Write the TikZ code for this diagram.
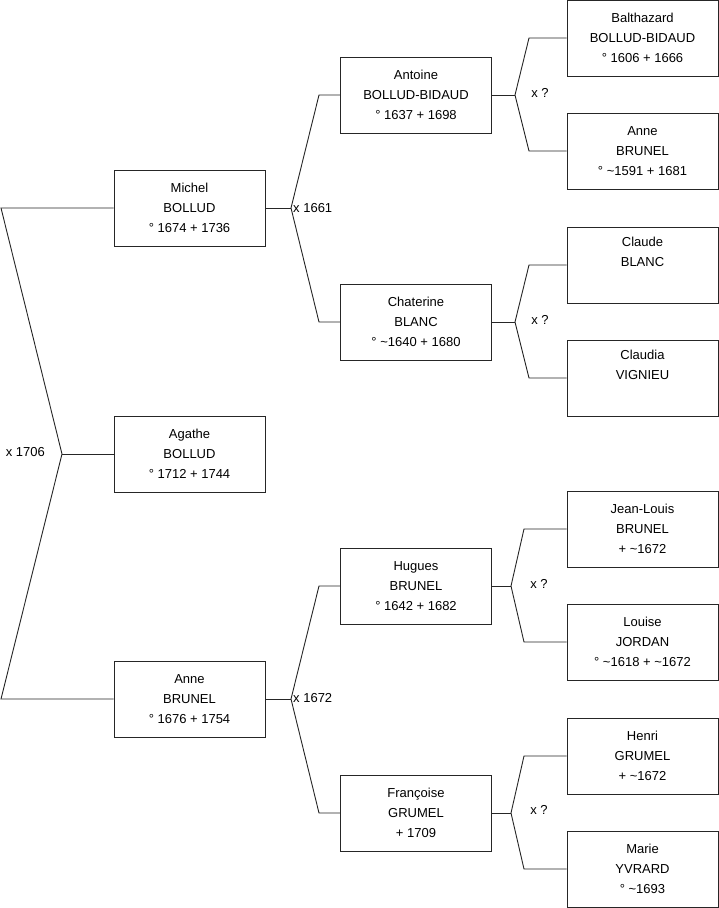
\documentclass[tikz,border=0pt]{standalone}
\usepackage{fontspec}
\setmainfont{Liberation Sans}
\begin{document}
\begin{tikzpicture}[x=1pt,y=-1pt,
  person/.style={draw=black!85, line width=0.9pt, fill=white, minimum width=151pt, minimum height=76pt, inner sep=0pt, align=center, font=\fontsize{13}{19.8}\selectfont},
  link/.style={draw=black!85, line width=0.9pt},
  marr/.style={font=\fontsize{13}{15}\selectfont, inner sep=0pt}]
\useasboundingbox (0,0) rectangle (719,908);
\fill[white] (0,0) rectangle (719,908);
% column 1
\node[person] (michel) at (189.5,208) {Michel\\BOLLUD\\° 1674 + 1736};
\node[person] (agathe) at (189.5,454) {Agathe\\BOLLUD\\° 1712 + 1744};
\node[person] (anne) at (189.5,699) {Anne\\BRUNEL\\° 1676 + 1754};
% column 2
\node[person] (antoine) at (416,95) {Antoine\\BOLLUD-BIDAUD\\° 1637 + 1698};
\node[person] (chaterine) at (416,322) {Chaterine\\BLANC\\° \textasciitilde 1640 + 1680};
\node[person] (hugues) at (416,586) {Hugues\\BRUNEL\\° 1642 + 1682};
\node[person] (francoise) at (416,813) {Françoise\\GRUMEL\\+ 1709};
% column 3
\node[person] (balthazard) at (642.5,38) {Balthazard\\BOLLUD-BIDAUD\\° 1606 + 1666};
\node[person] (anneb) at (642.5,151) {Anne\\BRUNEL\\° \textasciitilde 1591 + 1681};
\node[person] (claude) at (642.5,265) {Claude\\BLANC\\\strut};
\node[person] (claudia) at (642.5,378) {Claudia\\VIGNIEU\\\strut};
\node[person] (jeanlouis) at (642.5,529) {Jean-Louis\\BRUNEL\\+ \textasciitilde 1672};
\node[person] (louise) at (642.5,642) {Louise\\JORDAN\\° \textasciitilde 1618 + \textasciitilde 1672};
\node[person] (henri) at (642.5,756) {Henri\\GRUMEL\\+ \textasciitilde 1672};
\node[person] (marie) at (642.5,869) {Marie\\YVRARD\\° \textasciitilde 1693};
% joints level 0
\coordinate (j0) at (62,454);
\coordinate (j0a) at (1,208);
\coordinate (j0b) at (1,699);
\draw[link] (michel.west) -- (j0a) -- (j0) -- (j0b) -- (anne.west);
\draw[link] (j0) -- (agathe.west);
\node[marr, anchor=east] (m0) at (45,452) {x 1706};
% level 1
\coordinate (j1) at (291,208);
\coordinate (j1a) at (319,95);
\coordinate (j1b) at (319,322);
\draw[link] (michel.east) -- (j1);
\draw[link] (antoine.west) -- (j1a) -- (j1) -- (j1b) -- (chaterine.west);
\node[marr, anchor=west] (m1) at (293,208) {x 1661};
\coordinate (j2) at (291,699);
\coordinate (j2a) at (319,586);
\coordinate (j2b) at (319,813);
\draw[link] (anne.east) -- (j2);
\draw[link] (hugues.west) -- (j2a) -- (j2) -- (j2b) -- (francoise.west);
\node[marr, anchor=west] (m2) at (293,698) {x 1672};
% level 2
\coordinate (k1) at (515,95);
\coordinate (k1a) at (529,38);
\coordinate (k1b) at (529,151);
\draw[link] (antoine.east) -- (k1);
\draw[link] (balthazard.west) -- (k1a) -- (k1) -- (k1b) -- (anneb.west);
\node[marr] (n1) at (540,93) {x ?};
\coordinate (k2) at (515,322);
\coordinate (k2a) at (529,265);
\coordinate (k2b) at (529,378);
\draw[link] (chaterine.east) -- (k2);
\draw[link] (claude.west) -- (k2a) -- (k2) -- (k2b) -- (claudia.west);
\node[marr] (n2) at (540,320) {x ?};
\coordinate (k3) at (511,586);
\coordinate (k3a) at (524,529);
\coordinate (k3b) at (524,642);
\draw[link] (hugues.east) -- (k3);
\draw[link] (jeanlouis.west) -- (k3a) -- (k3) -- (k3b) -- (louise.west);
\node[marr] (n3) at (539,584) {x ?};
\coordinate (k4) at (511,813);
\coordinate (k4a) at (524,756);
\coordinate (k4b) at (524,869);
\draw[link] (francoise.east) -- (k4);
\draw[link] (henri.west) -- (k4a) -- (k4) -- (k4b) -- (marie.west);
\node[marr] (n4) at (539,810) {x ?};
\end{tikzpicture}
\end{document}
